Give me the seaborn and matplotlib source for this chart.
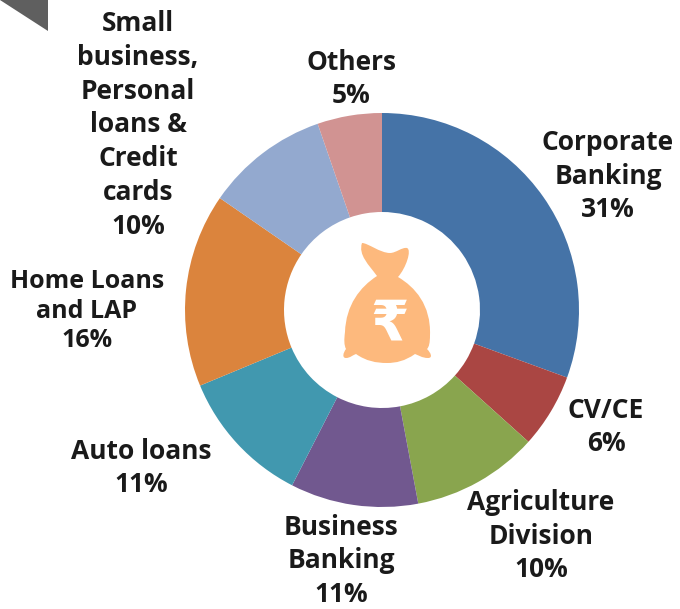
import matplotlib
matplotlib.use("Agg")
import matplotlib.pyplot as plt
import seaborn as sns
from matplotlib.patches import PathPatch, Polygon
from matplotlib.path import Path

categories = ["Corporate\nBanking", "CV/CE", "Agriculture\nDivision", "Business\nBanking", "Auto loans",
              "Home Loans\nand LAP", "Small\nbusiness,\nPersonal\nloans &\nCredit\ncards", "Others"]
# slice sizes as measured off the ring, the printed labels are rounded
shares = [30.6, 6.1, 10.4, 10.5, 11.2, 15.9, 10.1, 5.3]
share_labels = ["31%", "6%", "10%", "11%", "11%", "16%", "10%", "5%"]
colors = ["#4573A7", "#AA4643", "#89A54E", "#71588F", "#4198AF", "#DB843D", "#93A9CF", "#D19392"]
# label centres in pixels from the top left
label_x = [608, 606, 541, 341, 141, 87, 138, 351]
label_y = [176, 427, 536, 561, 468, 311, 125, 79]
label_gap = [1.32, 1.32, 1.32, 1.3, 1.32, 1.22, 1.32, 1.32]
label_size = [19, 19, 19, 19, 19, 18, 19, 19]

W, H = 680, 609
sns.set_theme(style="white")
plt.rcParams["font.family"] = ["Open Sans", "DejaVu Sans"]

fig = plt.figure(figsize=(W / 100, H / 100), dpi=100)
ax = fig.add_axes([0, 0, 1, 1])

ax.pie(shares, colors=colors, startangle=90, counterclock=False, radius=197, center=(382, H - 310),
       wedgeprops={"linewidth": 0, "width": 99})
ax.set_xlim(0, W)
ax.set_ylim(0, H)
ax.set_aspect("equal")
ax.axis("off")

for name, lab, x, y, gap, size in zip(categories, share_labels, label_x, label_y, label_gap, label_size):
    ax.text(x, H - y, f"{name}\n{lab}", ha="center", va="center", fontsize=size, fontweight="bold",
            color="#1a1a1a", linespacing=gap)

# money bag in the middle, pixel coords
def p(x, y):
    return (x, H - y)

bag_start = p(362, 243)
bag_curves = [
    [(368, 243), (380, 253), (390, 253)],
    [(396, 253), (402, 247), (407, 248)],
    [(412, 250), (406, 268), (398, 277)],
    [(415, 287), (431, 305), (430, 335)],
    [(430, 343), (429, 347), (427, 349)],
    [(431, 353), (433, 358), (428, 358)],
    [(422, 358), (418, 355), (415, 354)],
    [(405, 361), (396, 363), (387, 363)],
    [(376, 363), (366, 361), (356, 354)],
    [(353, 355), (350, 358), (346, 358)],
    [(342, 358), (343, 353), (346, 349)],
    [(344, 345), (344, 340), (345, 332)],
    [(346, 305), (360, 287), (377, 276)],
    [(369, 265), (358, 255), (362, 243)],
]
verts = [bag_start]
codes = [Path.MOVETO]
for curve in bag_curves:
    for x, y in curve:
        verts.append(p(x, y))
        codes.append(Path.CURVE4)
ax.add_patch(PathPatch(Path(verts, codes), facecolor="#FDB97D", edgecolor="none", zorder=3))
ax.text(390, H - 324, "₹", ha="center", va="center", fontsize=40, fontweight="bold", color="white",
        family="DejaVu Sans", zorder=4)

# grey corner of the slide
ax.add_patch(Polygon([p(0, 0), p(48, 0), p(48, 31)], closed=True, facecolor="#5F5F5F", edgecolor="none"))

fig.savefig("out.png", dpi=100)
